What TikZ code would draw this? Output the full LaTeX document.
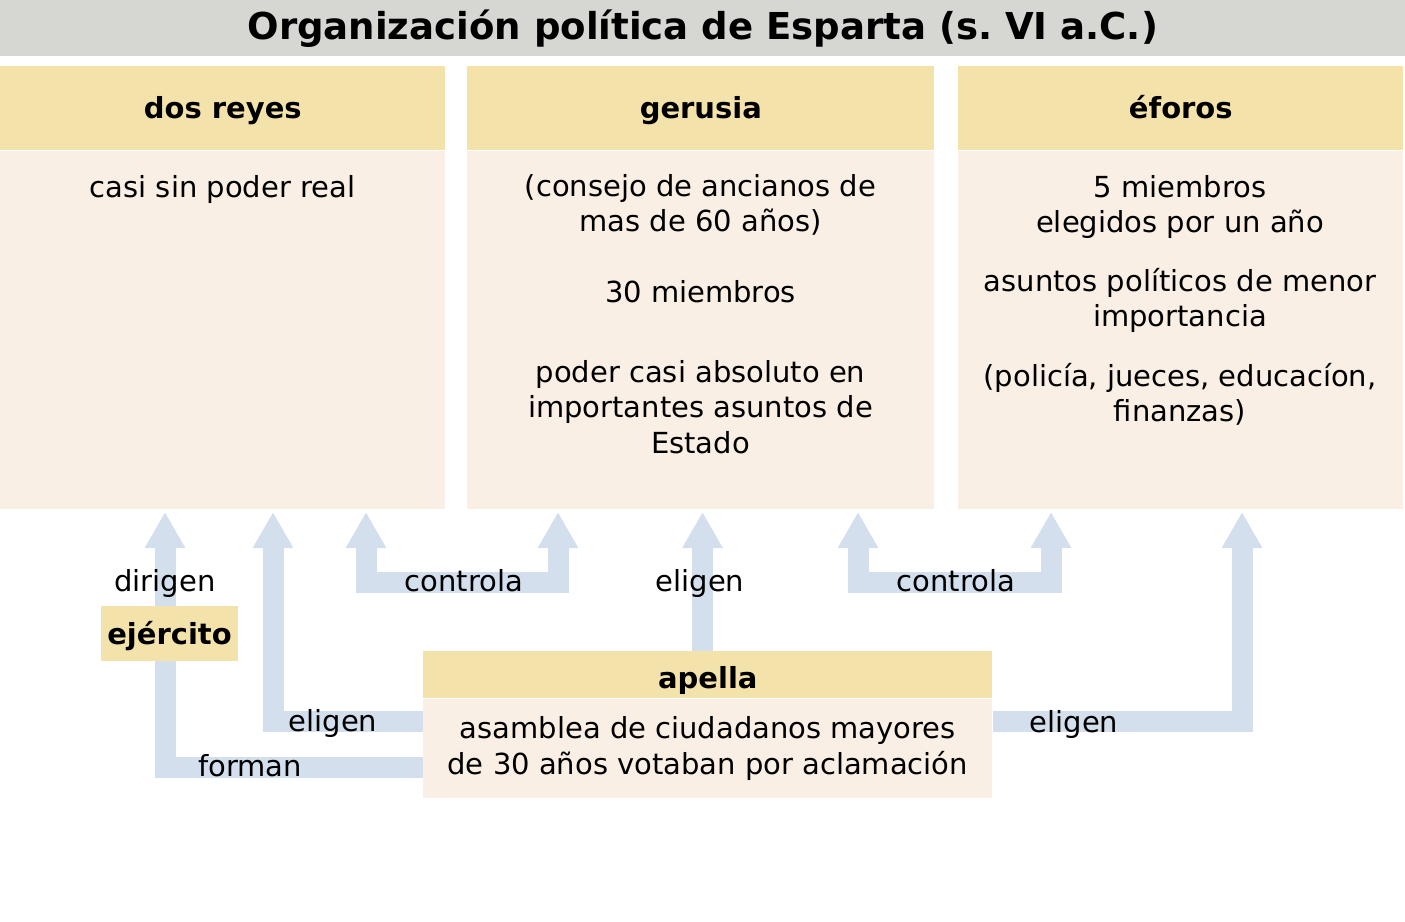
\documentclass[tikz,border=0pt]{standalone}
\usepackage{fontspec}
\setmainfont{DejaVu Sans}
\usepackage{xcolor}
\usetikzlibrary{arrows.meta,positioning}
\definecolor{gristit}{HTML}{D6D7D2}
\definecolor{cabecera}{HTML}{F3E3AB}
\definecolor{fondo}{HTML}{F9EFE4}
\definecolor{azulflecha}{HTML}{D3DFEC}
\pgfdeclarelayer{bajo}
\pgfsetlayers{bajo,main}

\begin{document}
\begin{tikzpicture}
    [x=0.02cm, y=-0.02cm,
     every node/.style={font=\fontsize{16.5}{20.1}\selectfont, inner sep=0pt},
     cab/.style={fill=cabecera, font=\fontsize{16.5}{20.1}\selectfont\bfseries,
                 text height=15pt, text depth=4pt},
     cuerpo/.style={fill=fondo, align=center},
     txt/.style={align=center},
     flecha/.style={draw=azulflecha, line width=0.42cm, line join=miter,
                    -{Triangle[width=0.76cm,length=0.72cm]}},
     doble/.style={flecha, {Triangle[width=0.76cm,length=0.72cm]}-{Triangle[width=0.76cm,length=0.72cm]}}]
    \useasboundingbox (0,0) rectangle (1405,921);
    \node[fill=gristit, minimum width=28.1cm, minimum height=1.12cm, anchor=north west,
          font=\fontsize{21.1}{24}\selectfont\bfseries] (titulo) at (0,0)
          {Organización política de Esparta (s.\ VI a.C.)};

    \node[cab, minimum width=8.9cm, minimum height=1.68cm, anchor=north west] (reyes) at (0,66) {dos reyes};
    \node[cuerpo, minimum width=8.9cm, minimum height=7.16cm, anchor=north] (reyesb) at (reyes.south) {};
    \node[cab, minimum width=9.34cm, minimum height=1.68cm, anchor=north west] (gerusia) at (467,66) {gerusia};
    \node[cuerpo, minimum width=9.34cm, minimum height=7.16cm, anchor=north] (gerusiab) at (gerusia.south) {};
    \node[cab, minimum width=8.9cm, minimum height=1.68cm, anchor=north west] (eforos) at (958,66) {éforos};
    \node[cuerpo, minimum width=8.9cm, minimum height=7.16cm, anchor=north] (eforosb) at (eforos.south) {};

    \node[txt] (reyes1) at (222.5,189) {casi sin poder real};
    \node[txt] (gerusia1) at (700.5,205) {(consejo de ancianos de\\mas de 60 años)};
    \node[txt] (gerusia2) at (700.5,292) {30 miembros};
    \node[txt] (gerusia3) at (700.5,407) {poder casi absoluto en\\importantes asuntos de\\Estado};
    \node[txt] (eforos1) at (1180,207) {5 miembros\\elegidos por un año};
    \node[txt] (eforos2) at (1180,300.5) {asuntos políticos de menor\\importancia};
    \node[txt] (eforos3) at (1180,394.5) {(policía, jueces, educacíon,\\finanzas)};

    \node[cab, minimum width=11.38cm, minimum height=0.94cm, anchor=north west,
          text height=19.3pt] (apella) at (423,651) {apella};
    \node[cuerpo, minimum width=11.38cm, minimum height=1.98cm, anchor=north] (apellab) at (apella.south)
          {asamblea de ciudadanos mayores\\de 30 años votaban por aclamación};
    \node[cab, minimum width=2.74cm, minimum height=1.1cm, text height=16.2pt] (ejercito) at (169.5,633.5) {ejército};

    \coordinate (p1) at (165,512);
    \coordinate (p2) at (273,512);
    \coordinate (p3a) at (366,512);
    \coordinate (p3b) at (558,512);
    \coordinate (p4) at (702.5,512);
    \coordinate (p5a) at (858,512);
    \coordinate (p5b) at (1051,512);
    \coordinate (p6) at (1242,512);

    \begin{pgfonlayer}{bajo}
        \draw[flecha] (apellab.west |- 0,767) -| (p1);
        \draw[flecha] (apellab.west |- 0,721) -| (p2);
        \draw[doble] (p3a) -- ++(0,70) -| (p3b);
        \draw[flecha] (apella.north -| p4) -- (p4);
        \draw[doble] (p5a) -- ++(0,70) -| (p5b);
        \draw[flecha] (apellab.east |- 0,721) -| (p6);
    \end{pgfonlayer}

    \node (dirigen) at (165,583) {dirigen};
    \node (forman) at (250,766) {forman};
    \node (eligen1) at (333,723) {eligen};
    \node (controla1) at (464,581) {controla};
    \node (eligen2) at (700,583) {eligen};
    \node (controla2) at (956,581) {controla};
    \node (eligen3) at (1074,724) {eligen};
\end{tikzpicture}
\end{document}
